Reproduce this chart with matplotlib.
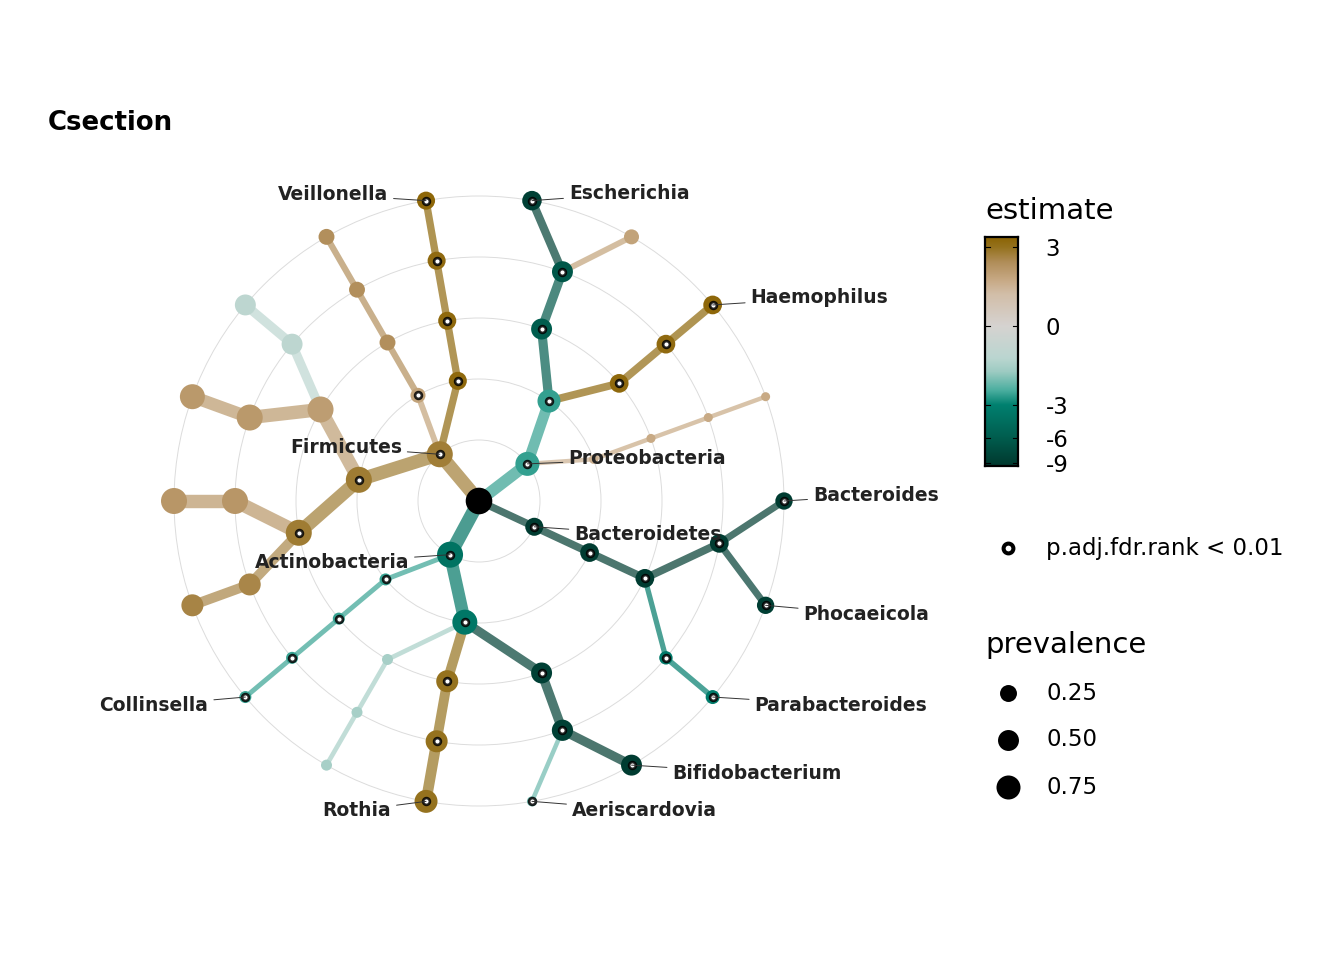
import numpy as np
import matplotlib
matplotlib.use("Agg")
import matplotlib.pyplot as plt
from matplotlib.colors import LinearSegmentedColormap, Normalize
from matplotlib.patches import Circle

# ---- data: tree nodes (depth-first, clockwise) ----
node_names = [
    "root",
    "Proteobacteria", "c_gamma", "o_entero", "f_entero", "Escherichia", "g_p60",
    "o_pasteur", "f_pasteur", "Haemophilus",
    "c_p20", "o_p20", "f_p20", "g_p20",
    "Bacteroidetes", "c_bact", "o_bact", "f_bact", "Bacteroides", "Phocaeicola",
    "f_tann", "Parabacteroides",
    "Actinobacteria", "c_actino", "o_bifido", "f_bifido", "Bifidobacterium", "Aeriscardovia",
    "o_micro", "f_micro", "Rothia",
    "o_a120", "f_a120", "g_a120",
    "c_corio", "o_corio", "f_corio", "Collinsella",
    "Firmicutes", "c_clost", "o_f190", "f_f200", "g_f200", "f_f180", "g_f180",
    "o_f150", "f_f160", "g_f160", "f_f140", "g_f140",
    "c_f120", "o_f120", "f_f120", "g_f120",
    "c_negativ", "o_veill", "f_veill", "Veillonella",
]
node_parents = [
    None,
    "root", "Proteobacteria", "c_gamma", "o_entero", "f_entero", "f_entero",
    "c_gamma", "o_pasteur", "f_pasteur",
    "Proteobacteria", "c_p20", "o_p20", "f_p20",
    "root", "Bacteroidetes", "c_bact", "o_bact", "f_bact", "f_bact",
    "o_bact", "f_tann",
    "root", "Actinobacteria", "c_actino", "o_bifido", "f_bifido", "f_bifido",
    "c_actino", "o_micro", "f_micro",
    "c_actino", "o_a120", "f_a120",
    "Actinobacteria", "c_corio", "o_corio", "f_corio",
    "root", "Firmicutes", "c_clost", "o_f190", "f_f200", "o_f190", "f_f180",
    "c_clost", "o_f150", "f_f160", "o_f150", "f_f140",
    "Firmicutes", "c_f120", "o_f120", "f_f120",
    "Firmicutes", "c_negativ", "o_veill", "f_veill",
]
estimate = [
    np.nan,
    -2.3, -2.3, -6.0, -6.5, -8.5, 1.2,
    3.5, 3.4, 3.6,
    0.8, 1.0, 1.0, 1.0,
    -9.0, -9.0, -9.0, -9.0, -9.0, -8.8,
    -3.5, -3.2,
    -4.0, -3.7, -8.5, -8.5, -9.0, -1.5,
    3.0, 3.0, 3.0,
    -0.8, -0.8, -0.8,
    -2.2, -2.2, -2.2, -2.2,
    2.5, 2.6, 2.6, 2.2, 2.3, 1.6, 1.6,
    1.4, 1.5, 1.5, -0.4, -0.4,
    1.2, 1.9, 1.9, 1.9,
    3.5, 3.5, 3.4, 3.6,
]
prevalence = [
    1.0,
    0.75, 0.66, 0.50, 0.50, 0.40, 0.16,
    0.35, 0.35, 0.35,
    0.01, 0.008, 0.008, 0.008,
    0.31, 0.35, 0.35, 0.35, 0.27, 0.27,
    0.10, 0.12,
    0.94, 0.84, 0.50, 0.52, 0.50, 0.02,
    0.58, 0.58, 0.66,
    0.037, 0.037, 0.037,
    0.06, 0.06, 0.06, 0.06,
    0.94, 0.94, 0.94, 0.58, 0.58, 0.94, 0.94,
    0.94, 0.94, 0.84, 0.50, 0.50,
    0.16, 0.20, 0.20, 0.20,
    0.31, 0.31, 0.31, 0.31,
]
significant = [
    0,
    1, 1, 1, 1, 1, 0,
    1, 1, 1,
    0, 0, 0, 0,
    1, 1, 1, 1, 1, 1,
    1, 1,
    1, 1, 1, 1, 1, 1,
    1, 1, 1,
    0, 0, 0,
    1, 1, 1, 1,
    1, 1, 1, 0, 0, 0, 0,
    0, 0, 0, 0, 0,
    1, 0, 0, 0,
    1, 1, 1, 1,
]
# labelled taxa: label offset (px right, px down) from node, alignment
label_names = ["Veillonella", "Escherichia", "Haemophilus", "Proteobacteria", "Bacteroides",
               "Bacteroidetes", "Phocaeicola", "Parabacteroides", "Bifidobacterium",
               "Aeriscardovia", "Rothia", "Collinsella", "Actinobacteria", "Firmicutes"]
label_dx = [-38, 37, 38, 41, 29, 40, 38, 42, 41, 40, -35, -37, -41, -38]
label_dy = [-6, -7, -7, -5, -6, 8, 9, 8, 8, 9, 9, 8, 8, -7]

cbar_ticks = [3, 0, -3, -6, -9]
size_breaks = [0.25, 0.50, 0.75]

# ---- layout ----
W, H = 1344, 960
CX, CY, RING = 479, 501, 61.0
PT = 0.72  # points per pixel at dpi 100


def tr(v):
    return np.sign(v) * np.sqrt(np.abs(v))


def diam(p):
    return 7.3 + 19.3 * np.sqrt(p)


def width(p):
    return 4.3 + 9.7 * p


T_MIN, T_MAX = tr(-9.4), tr(3.8)
anchors = [(-9.4, "#00382e"), (-6, "#005d4e"), (-3, "#00806f"), (-2, "#4aae9f"),
           (-1, "#9dcbc2"), (-0.5, "#bad6d0"), (0, "#d6d3d1"), (0.5, "#d2bea8"),
           (1, "#c8aa86"), (2, "#b08d58"), (3, "#95721e"), (3.8, "#8c6404")]
cmap = LinearSegmentedColormap.from_list(
    "est", [((tr(v) - T_MIN) / (T_MAX - T_MIN), c) for v, c in anchors])
norm = Normalize(T_MIN, T_MAX)

# ---- tree geometry ----
idx = {n: i for i, n in enumerate(node_names)}
children = {n: [] for n in node_names}
for n, p in zip(node_names, node_parents):
    if p is not None:
        children[p].append(n)

angle = {}
depth = {"root": 0}
leaf_count = [0]


def place(n):
    if not children[n]:
        angle[n] = 80 - 20 * leaf_count[0]
        leaf_count[0] += 1
    else:
        for c in children[n]:
            depth[c] = depth[n] + 1
            place(c)
        angle[n] = np.mean([angle[c] for c in children[n]])


place("root")
xs = np.array([depth[n] * np.cos(np.radians(angle[n])) for n in node_names])
ys = np.array([depth[n] * np.sin(np.radians(angle[n])) for n in node_names])
est = np.array(estimate, dtype=float)
prev = np.array(prevalence)
cols = [("black" if np.isnan(e) else cmap(norm(tr(e)))) for e in est]

fig = plt.figure(figsize=(W / 100, H / 100), dpi=100)
ax = fig.add_axes([0, 0, 1, 1])
ax.set_xlim(-CX / RING, (W - CX) / RING)
ax.set_ylim(-(H - CY) / RING, CY / RING)
ax.axis("off")

for r in range(1, 6):
    ax.add_patch(Circle((0, 0), r, fill=False, ec="#dcdcdc", lw=0.7, zorder=0))

for i, n in enumerate(node_names):
    p = node_parents[i]
    if p is None:
        continue
    j = idx[p]
    ax.plot([xs[j], xs[i]], [ys[j], ys[i]], color=cols[i], alpha=0.7,
            lw=width(prev[i]) * PT, solid_capstyle="butt", zorder=1)

ax.scatter(xs, ys, s=(diam(prev) * PT) ** 2, c=cols, linewidths=0, zorder=3)
sig = np.array(significant, dtype=bool)
ax.scatter(xs[sig], ys[sig], s=24, facecolor="white", edgecolor=(0, 0, 0, 0.85),
           linewidths=1.9, zorder=4)

for name, dx, dy in zip(label_names, label_dx, label_dy):
    i = idx[name]
    ax.annotate(name, xy=(xs[i], ys[i]), xytext=(dx * PT, -dy * PT),
                textcoords="offset points", ha="left" if dx > 0 else "right",
                va="center", fontsize=13.5, fontweight="bold", color="#222222",
                arrowprops=dict(arrowstyle="-", color="#333333", lw=0.7,
                                shrinkA=2, shrinkB=0), zorder=5)

# ---- title & legends (pixel coords) ----
lax = fig.add_axes([0, 0, 1, 1], facecolor="none")
lax.set_xlim(0, W)
lax.set_ylim(H, 0)
lax.axis("off")
lax.text(48, 123, "Csection", fontsize=18.7, fontweight="bold", va="center", ha="left")
lax.text(985, 219, "estimate", fontsize=21, va="baseline", ha="left")
lax.text(985, 653, "prevalence", fontsize=21, va="baseline", ha="left")

cax = fig.add_axes([985 / W, 1 - 466 / H, 33 / W, 229 / H])
grad = np.linspace(T_MAX, T_MIN, 256).reshape(-1, 1)
cax.imshow(grad, cmap=cmap, norm=norm, aspect="auto", extent=[0, 1, T_MIN, T_MAX])
cax.set_xlim(0, 1)
cax.set_ylim(T_MIN, T_MAX)
for s in cax.spines.values():
    s.set_linewidth(1.6)
cax.set_xticks([])
cax.yaxis.tick_right()
cax.set_yticks([tr(v) for v in cbar_ticks])
cax.set_yticklabels([str(v) for v in cbar_ticks], fontsize=16.5)
cax.tick_params(axis="y", length=0, pad=20)
for v in cbar_ticks:
    cax.plot([0, 0.16], [tr(v)] * 2, color="black", lw=0.8)
    cax.plot([0.84, 1], [tr(v)] * 2, color="black", lw=0.8)

lax.scatter([1008], [548], s=50, facecolor="white", edgecolor="black", linewidths=2.9)
lax.text(1046, 548, "p.adj.fdr.rank < 0.01", fontsize=16.5, va="center", ha="left")
for k, b in enumerate(size_breaks):
    y = 693 + 47 * k
    lax.scatter([1008], [y], s=(diam(b) * PT) ** 2, color="black", linewidths=0)
    lax.text(1046, y, f"{b:.2f}", fontsize=16.5, va="center", ha="left")

fig.savefig("out.png", dpi=100)
